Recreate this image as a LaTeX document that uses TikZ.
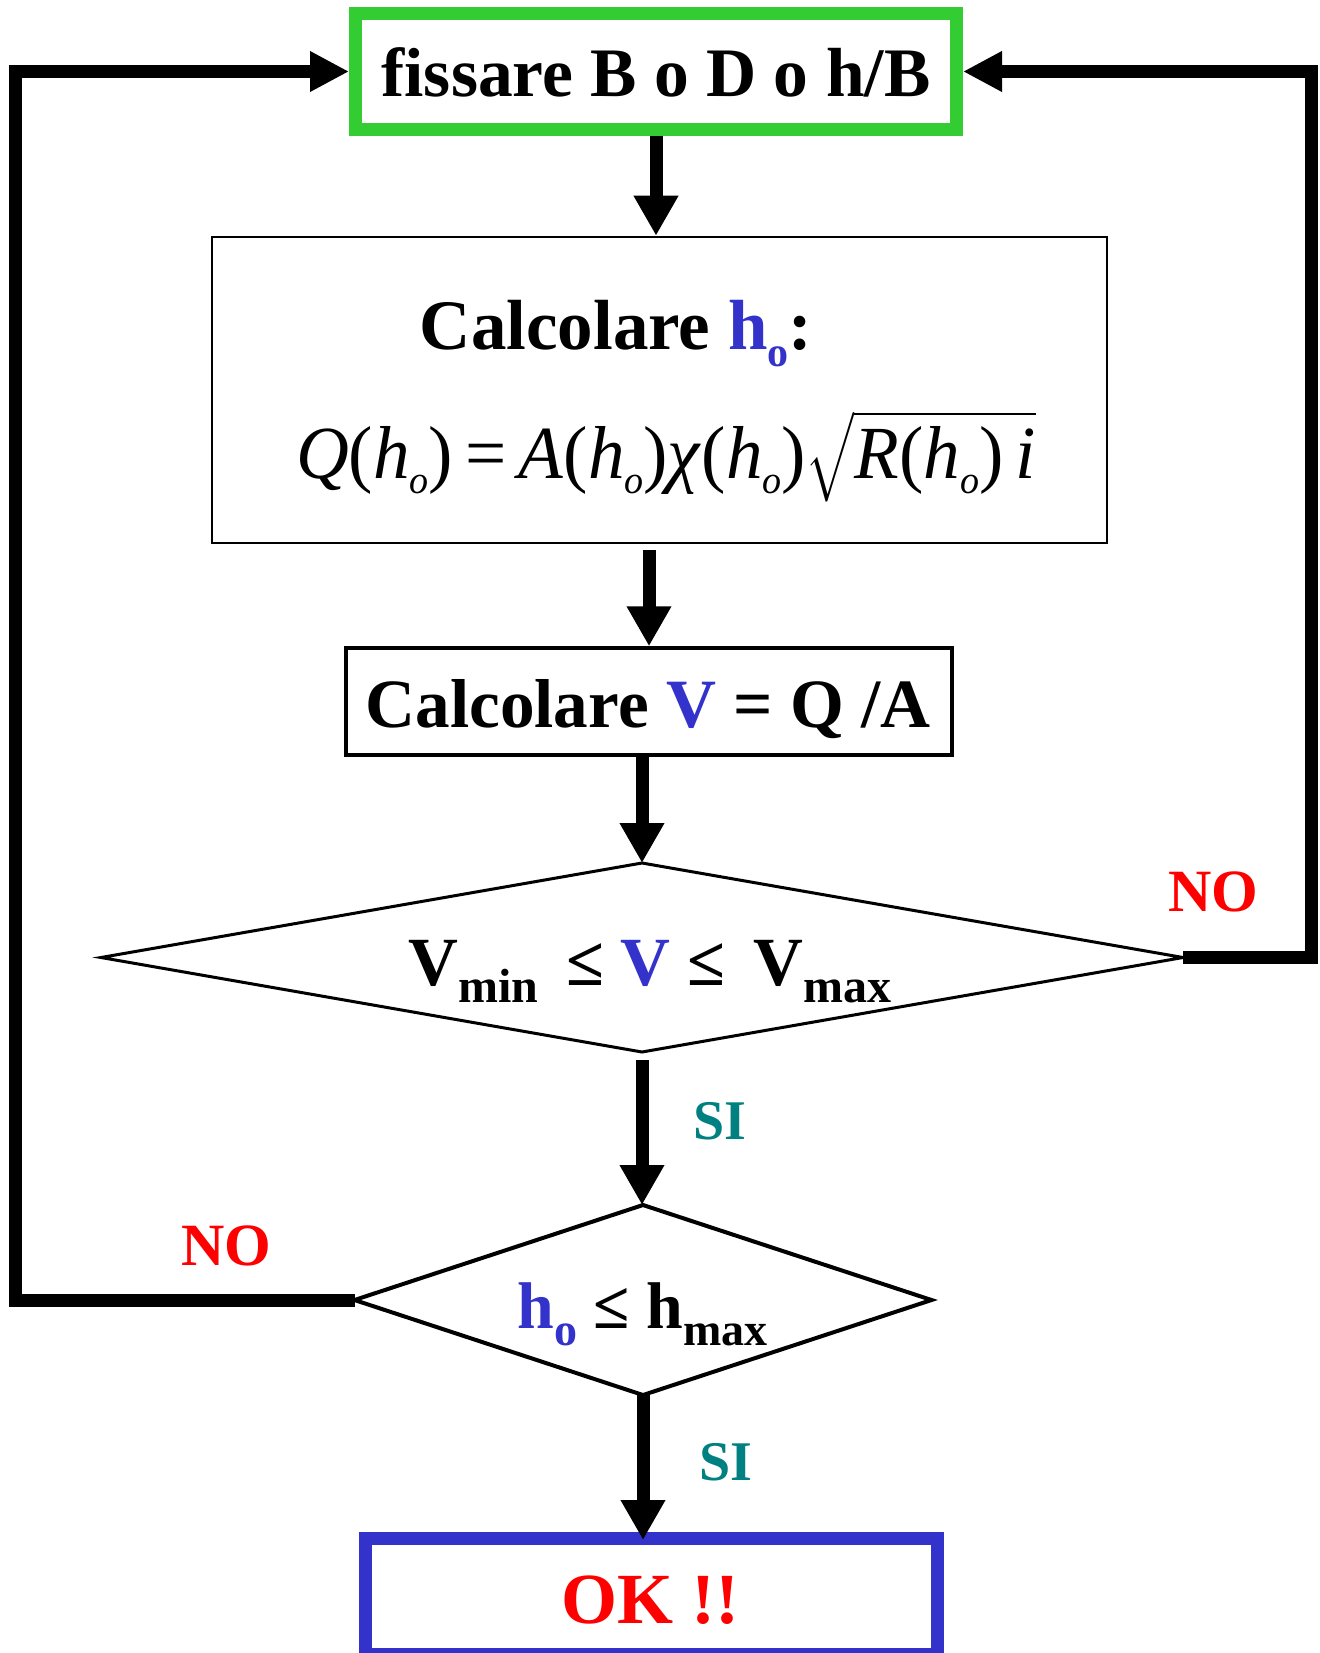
\documentclass[tikz,border=0pt]{standalone}
\usepackage{amsmath}
\usepackage{fontspec}
\setmainfont{Liberation Serif}
\usetikzlibrary{arrows.meta,shapes.geometric}
\definecolor{mygreen}{HTML}{33CC33}
\definecolor{myblue}{HTML}{3333CC}
\definecolor{myred}{HTML}{FF0000}
\definecolor{myteal}{HTML}{008080}
\newcommand\subtx[3]{\raisebox{-#2}{\fontsize{#1}{#1}\selectfont #3}}
\newcommand\fsz[1]{\fontsize{#1}{#1}\selectfont}
\newcommand\fpl{\textup{(}}
\newcommand\fpr{\textup{)}}
\newcommand\fho{h\subtx{19.5pt}{7.5pt}{o}}
\begin{document}
\begin{tikzpicture}[x=0.5pt,y=-0.5pt,
  box/.style={rectangle, inner sep=0pt, draw},
  dia/.style={diamond, inner sep=0pt, outer sep=0pt, draw},
  txt/.style={inner sep=0pt, anchor=base, font=\bfseries},
  arr/.style={line width=6.5pt, -{Triangle[length=20pt,width=21pt]}},
  backarr/.style={line width=6.5pt, line join=miter, -{Triangle[length=19.5pt,width=19pt]}},
]
\clip (0,0) rectangle (1319,1653);
\fill[white] (0,0) rectangle (1319,1653);

% boxes and diamonds
\node[box, draw=mygreen, line width=6.5pt, minimum width=300.5pt, minimum height=58pt] (start) at (656,71.5) {};
\node[txt, font=\bfseries\fsz{34.75pt}] (tstart) at (656,97) {fissare B o D o h/B};

\node[box, line width=1.25pt, minimum width=447.5pt, minimum height=153pt] (calc) at (659.5,390) {};
\node[txt, font=\bfseries\fsz{35.5pt}] (tcalc) at (616,349) {Calcolare \textcolor{myblue}{h\subtx{21pt}{8.5pt}{o}}:};
\node[txt, font=\fsz{37.5pt}] (formula) at (666,478) {\scalebox{0.975}[1]{\itshape Q\fpl\fho\fpr\,\textup{=}\,A\fpl\fho\fpr χ\fpl\fho\fpr$\sqrt{\mbox{\itshape R\fpl\fho\fpr\,i}}$}};

\node[box, line width=1.75pt, minimum width=303pt, minimum height=53.5pt] (vel) at (649,701.5) {};
\node[txt, font=\bfseries\fsz{34.6pt}] (tvel) at (648,727) {Calcolare \textcolor{myblue}{V} = Q /A};

\node[dia, line width=1.5pt, minimum width=541pt, minimum height=94.5pt] (d1) at (642,957.5) {};
\node[txt, font=\bfseries\fsz{34.5pt}] (td1) at (650,985) {V\subtx{24pt}{8.5pt}{min}\hspace{14pt}≤\hspace{8pt}\textcolor{myblue}{V}\hspace{9pt}≤\hspace{14pt}V\subtx{24pt}{8.5pt}{max}};

\node[dia, line width=2pt, minimum width=288.5pt, minimum height=95pt] (d2) at (643,1300) {};
\node[txt, font=\bfseries\fsz{33pt}] (td2) at (642.5,1328) {\textcolor{myblue}{h\subtx{23pt}{8.5pt}{o}} ≤ h\subtx{23pt}{8.5pt}{max}};

\node[box, draw=myblue, line width=6.5pt, minimum width=286pt, minimum height=58pt] (ok) at (651.5,1596.5) {};
\node[txt, font=\bfseries\fsz{36pt}, text=myred] (tok) at (650,1623) {OK !!};

% labels
\node[txt, font=\bfseries\fsz{30pt}, text=myred] (no1) at (1213,911) {NO};
\node[txt, font=\bfseries\fsz{30pt}, text=myred] (no2) at (226,1265) {NO};
\node[txt, font=\bfseries\fsz{28pt}, text=myteal] (si1) at (720,1139) {SI};
\node[txt, font=\bfseries\fsz{28pt}, text=myteal] (si2) at (726,1480) {SI};

\coordinate (lc) at (15,700);
\coordinate (rc) at (1311,500);

% connectors
\draw[arr] (start.south) -- (start.south |- calc.north);
\draw[arr, shorten <=3pt] (calc.south -| vel.north) -- (vel.north);
\draw[arr] (vel.south -| d1.north) -- (d1.north);
\draw[arr, shorten <=4pt] (d1.south) -- (d1.south |- d2.north);
\draw[arr, shorten >=-4pt] (d2.south) -- (d2.south |- ok.north);
\draw[backarr] (d1.east) -| (rc) |- (start.east);
\draw[backarr] (d2.west) -| (lc) |- (start.west);
\end{tikzpicture}
\end{document}
